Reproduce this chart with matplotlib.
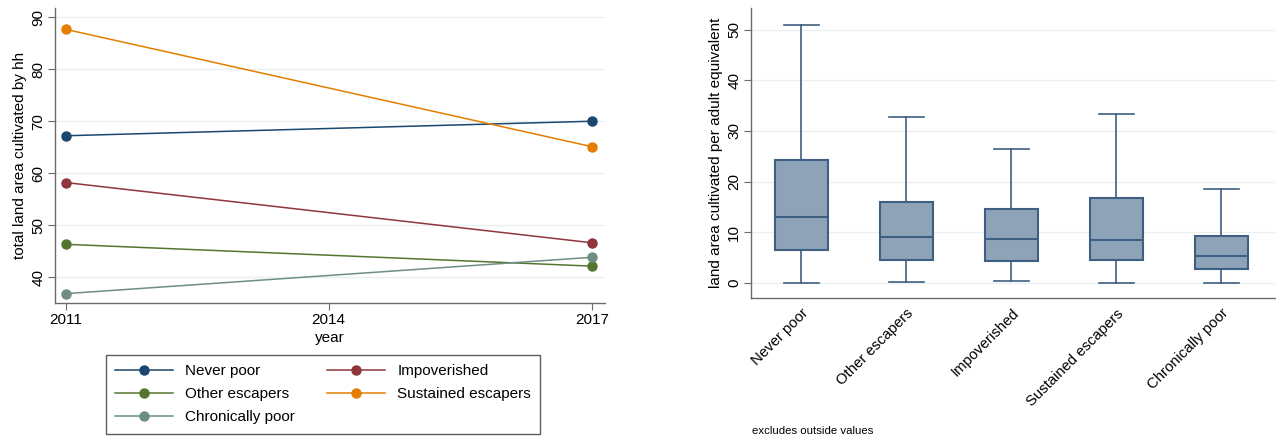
import matplotlib
matplotlib.use('Agg')
import matplotlib.pyplot as plt

plt.rcParams['font.family'] = ['Liberation Sans', 'DejaVu Sans']

# left panel: mean land area by group, 2011 vs 2017
years = [2011, 2017]
groups = ['Never poor', 'Impoverished', 'Other escapers', 'Sustained escapers', 'Chronically poor']
never_poor = [67.2, 70.0]
impoverished = [58.2, 46.6]
other_escapers = [46.3, 42.1]
sustained_escapers = [87.7, 65.1]
chronically_poor = [36.8, 43.8]
line_colors = ['#1a476f', '#90353b', '#55752f', '#e37e00', '#6e8e84']

# right panel: box plot summary (excludes outside values)
box_labels = ['Never poor', 'Other escapers', 'Impoverished', 'Sustained escapers', 'Chronically poor']
whis_low = [0.0, 0.2, 0.4, 0.0, 0.0]
q1 = [6.5, 4.6, 4.3, 4.5, 2.8]
med = [13.0, 9.0, 8.7, 8.5, 5.3]
q3 = [24.2, 16.0, 14.5, 16.8, 9.2]
whis_high = [51.0, 32.7, 26.4, 33.4, 18.5]

grid_c = '#e9f0f2'
spine_c = '#6b6b6b'
fs = 11

fig = plt.figure(figsize=(12.76, 4.38), dpi=100)
ax1 = fig.add_axes([55 / 1276, 1 - 303 / 438, 550 / 1276, 295 / 438])
ax2 = fig.add_axes([751 / 1276, 1 - 298 / 438, 524 / 1276, 290 / 438])

series = [never_poor, impoverished, other_escapers, sustained_escapers, chronically_poor]
handles = []
for name, vals, c in zip(groups, series, line_colors):
    h, = ax1.plot(years, vals, color=c, lw=1.1, marker='o', ms=6.5, label=name, zorder=3)
    handles.append(h)

ax1.set_xlim(2010.88, 2017.15)
ax1.set_ylim(35, 91.8)
ax1.set_xticks([2011, 2014, 2017])
ax1.set_yticks([40, 50, 60, 70, 80, 90])
ax1.set_xlabel('year', fontsize=fs, labelpad=3)
ax1.set_ylabel('total land area cultivated by hh', fontsize=fs, labelpad=3)

# legend order: row-wise as in the reference
order = [0, 2, 4, 1, 3]
fig.legend([handles[i] for i in order], [groups[i] for i in order],
           loc='upper center', bbox_to_anchor=(323 / 1276, 1 - 355 / 438),
           ncol=2, fontsize=fs, frameon=True, fancybox=False, edgecolor='#333333',
           handlelength=3.8, handletextpad=0.8, columnspacing=2.1,
           labelspacing=0.6, borderpad=0.6, borderaxespad=0)

bstats = []
for i in range(len(box_labels)):
    bstats.append({'whislo': whis_low[i], 'q1': q1[i], 'med': med[i],
                   'q3': q3[i], 'whishi': whis_high[i], 'fliers': []})
edge = '#3e5f82'
ax2.bxp(bstats, positions=range(1, 6), widths=0.5, patch_artist=True,
        showfliers=False,
        boxprops=dict(facecolor='#8ea3b8', edgecolor=edge, lw=1.5),
        medianprops=dict(color=edge, lw=1.5),
        whiskerprops=dict(color=edge, lw=1.2),
        capprops=dict(color=edge, lw=1.2), capwidths=0.33)
ax2.set_xlim(0.52, 5.51)
ax2.set_ylim(-3.0, 54.3)
ax2.set_yticks([0, 10, 20, 30, 40, 50])
ax2.set_xticks(range(1, 6))
ax2.set_xticklabels(box_labels, rotation=45, ha='right', rotation_mode='anchor', fontsize=10.7)
ax2.tick_params(axis='x', length=0, pad=6)
ax2.set_ylabel('land area cultivated per adult equivalent', fontsize=fs, labelpad=3)
fig.text(752 / 1276, 1 - 431 / 438, 'excludes outside values', fontsize=8.2, va='center')

for ax in (ax1, ax2):
    ax.grid(axis='y', color=grid_c, lw=1.0)
    ax.set_axisbelow(True)
    for s in ('top', 'right'):
        ax.spines[s].set_visible(False)
    for s in ('left', 'bottom'):
        ax.spines[s].set_color(spine_c)
        ax.spines[s].set_linewidth(1.0)
    ax.tick_params(axis='y', labelrotation=90, labelsize=fs, color=spine_c, length=5, pad=2)
    for t in ax.get_yticklabels():
        t.set_va('center')
ax1.tick_params(axis='x', labelsize=fs, color=spine_c, length=5, pad=2)

fig.savefig('out.png', dpi=100)
